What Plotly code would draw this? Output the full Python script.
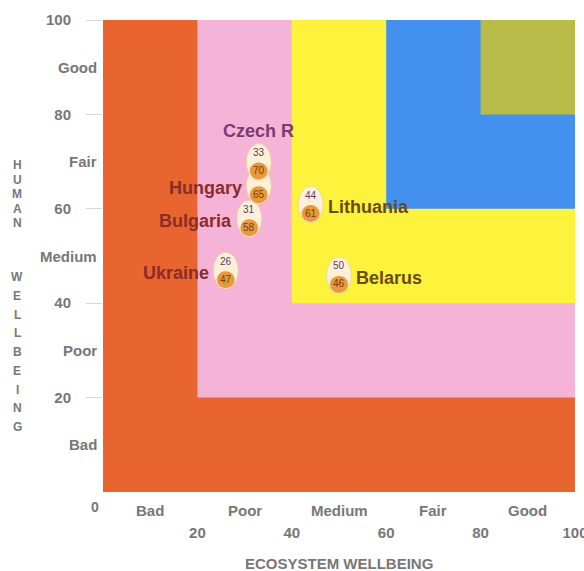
import plotly.graph_objects as go

# ---------------- data ----------------
countries = ["Ukraine", "Bulgaria", "Hungary", "Czech R", "Lithuania", "Belarus"]
ecosystem = [26, 31, 33, 33, 44, 50]   # ecosystem wellbeing index (x)
human = [47, 58, 65, 70, 61, 46]       # human wellbeing index (y)
label_side = ["left", "left", "left", "top", "right", "right"]
label_colors = ["#8a2c28", "#8a2c28", "#8a2c28", "#7a3c6c", "#6a4b10", "#6a4b10"]
show_top_number = [True, True, False, True, True, True]  # Hungary's top value is hidden behind Czech R

band_edges = [0, 20, 40, 60, 80]
band_colors = ["#E8652F", "#F5B3D8", "#FDF23C", "#4490EE", "#B7BC48"]

num_ticks = [20, 40, 60, 80, 100]
num_tick_text = ["20", "40", "60", "80", "100"]
quality_pos = [10, 30, 50, 70, 90]
quality_labels = ["Bad", "Poor", "Medium", "Fair", "Good"]

x_title = "ECOSYSTEM WELLBEING"
y_title_words = ["HUMAN", "WELLBEING"]

# ---------------- figure ----------------
W, H = 584, 571
ML, MR, MT, MB = 103, 9, 20, 79
plot_h = H - MT - MB
FONT = "Liberation Sans, Arial, sans-serif"
GRAY = "#777777"

fig = go.Figure()

shapes = []
for lo, col in zip(band_edges, band_colors):
    shapes.append(dict(type="rect", xref="x", yref="y", x0=lo, x1=100, y0=lo, y1=100,
                       fillcolor=col, line=dict(width=0), layer="below"))

# bubbles (egg shaped), anchored at data points with pixel sizes
for xv, yv in zip(ecosystem, human):
    shapes.append(dict(type="circle", xref="x", yref="y", xsizemode="pixel", ysizemode="pixel",
                       xanchor=xv, yanchor=yv, x0=-12.5, x1=12.5, y0=-19, y1=18,
                       fillcolor="#FCF1D8", line=dict(color="#EBC890", width=0.6), layer="above"))
    shapes.append(dict(type="circle", xref="x", yref="y", xsizemode="pixel", ysizemode="pixel",
                       xanchor=xv, yanchor=yv, x0=-9, x1=9, y0=-18, y1=-1,
                       fillcolor="#E69A3C", line=dict(width=0), layer="above"))

fig.add_trace(go.Scatter(x=ecosystem, y=human, mode="markers",
                         marker=dict(size=20, color="#FCF1D8", line=dict(width=0)),
                         hoverinfo="text", text=countries, showlegend=False))

ann = []
for i, (c, xv, yv) in enumerate(zip(countries, ecosystem, human)):
    if show_top_number[i]:
        ann.append(dict(x=xv, y=yv, xref="x", yref="y", text=str(xv), showarrow=False,
                        yshift=9, font=dict(family=FONT, size=10, color="#5a3a6a")))
    ann.append(dict(x=xv, y=yv, xref="x", yref="y", text=str(yv), showarrow=False,
                    yshift=-9, font=dict(family=FONT, size=10, color="#7a3a10")))
    side = label_side[i]
    f = dict(family=FONT, size=18, color=label_colors[i])
    if side == "left":
        ann.append(dict(x=xv, y=yv, xref="x", yref="y", text="<b>%s</b>" % c, showarrow=False,
                        xanchor="right", xshift=-15, yshift=-3, font=f))
    elif side == "right":
        ann.append(dict(x=xv, y=yv, xref="x", yref="y", text="<b>%s</b>" % c, showarrow=False,
                        xanchor="left", xshift=15, yshift=-3, font=f))
    else:
        ann.append(dict(x=xv, y=yv, xref="x", yref="y", text="<b>%s</b>" % c, showarrow=False,
                        xanchor="center", yshift=31, font=f))

qfont = dict(family=FONT, size=15, color=GRAY)
# qualitative labels on y axis
for p, t in zip(quality_pos, quality_labels):
    ann.append(dict(x=0, y=p, xref="paper", yref="y", text="<b>%s</b>" % t, showarrow=False,
                    xanchor="right", xshift=-4, font=qfont))
# qualitative labels on x axis
for p, t in zip(quality_pos, quality_labels):
    ann.append(dict(x=p, y=0, xref="x", yref="paper", text="<b>%s</b>" % t, showarrow=False,
                    yanchor="middle", yshift=-18, font=qfont))
# zero label
ann.append(dict(x=0, y=0, xref="x", yref="paper", text="<b>0</b>", showarrow=False,
                xshift=-8, yshift=-15, yanchor="middle", font=dict(family=FONT, size=14, color=GRAY)))
# x title
ann.append(dict(x=0.5, y=0, xref="paper", yref="paper", text="<b>%s</b>" % x_title, showarrow=False,
                yanchor="middle", yshift=-71, font=dict(family=FONT, size=15, color=GRAY)))
# y title, stacked letters
letters_px = []
for i, ch in enumerate(y_title_words[0]):
    letters_px.append((ch, 165 + 14.5 * i))
for i, ch in enumerate(y_title_words[1]):
    letters_px.append((ch, 277 + 18.75 * i))
for ch, py in letters_px:
    ann.append(dict(x=0, y=(H - MB - py) / plot_h, xref="paper", yref="paper", text="<b>%s</b>" % ch,
                    showarrow=False, xanchor="center", yanchor="middle", xshift=17 - ML,
                    font=dict(family=FONT, size=12, color=GRAY)))

tickfont = dict(family=FONT, size=15, color=GRAY, weight="bold")
fig.update_layout(
    width=W, height=H, margin=dict(l=ML, r=MR, t=MT, b=MB, autoexpand=False),
    paper_bgcolor="white", plot_bgcolor="white",
    shapes=shapes, annotations=ann, showlegend=False,
    xaxis=dict(range=[0, 100], showgrid=False, zeroline=False, showline=False,
               tickvals=num_ticks, ticktext=num_tick_text, ticks="", ticklabelstandoff=30,
               automargin=False, ticklabeloverflow="allow",
               tickfont=tickfont, fixedrange=True),
    yaxis=dict(range=[0, 100], showgrid=False, zeroline=False, showline=False,
               tickvals=num_ticks, ticktext=num_tick_text, ticks="outside", ticklen=16,
               tickcolor="#d8d8d8", ticklabelstandoff=12, automargin=False,
               ticklabeloverflow="allow",
               tickfont=tickfont, fixedrange=True),
)

fig.write_html("out.html", config={"displayModeBar": False},
               post_script="document.body.style.margin='0';document.body.style.overflow='hidden';")
